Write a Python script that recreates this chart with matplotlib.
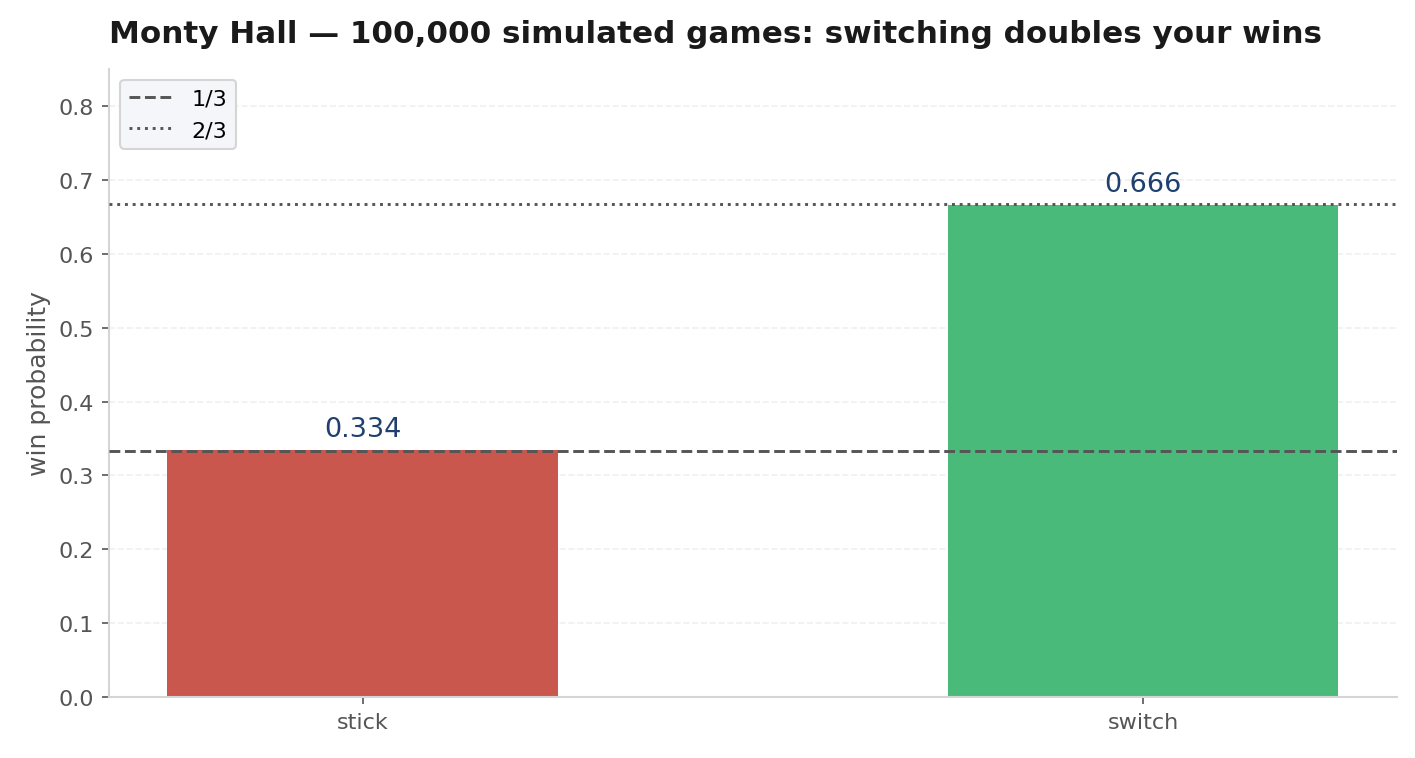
import matplotlib
matplotlib.use("Agg")
import matplotlib.pyplot as plt

# simulated win rates
strategies = ["stick", "switch"]
win_rates = [0.334, 0.666]
bar_colors = ["#c9574d", "#4aba7a"]
ref_levels = [1/3, 2/3]
ref_labels = ["1/3", "2/3"]
ref_styles = ["--", ":"]

plt.rcParams['font.family'] = ['DejaVu Sans']

fig = plt.figure(figsize=(14.15/1.5, 7.59/1.5), dpi=150)
ax = fig.add_axes([0.077, 0.080, 0.910, 0.828])

x = range(len(strategies))
bars = ax.bar(x, win_rates, width=0.5, color=bar_colors, zorder=2)

for lvl, lab, ls in zip(ref_levels, ref_labels, ref_styles):
    ax.axhline(lvl, color="#555555", lw=1.4, ls=ls, label=lab, zorder=3)

for b, v in zip(bars, win_rates):
    ax.annotate("%.3f" % v, (b.get_x() + b.get_width()/2, v),
                xytext=(0, 4), textcoords="offset points",
                ha="center", va="bottom", fontsize=13, color="#1f3f6e")

ax.set_xticks(list(x))
ax.set_xticklabels(strategies)
ax.set_ylim(0, 0.85)
ax.set_yticks([i/10 for i in range(9)])
ax.set_ylabel("win probability", fontsize=12, color="#555555")
ax.tick_params(colors="#555555", labelsize=10.7)

ax.grid(axis="y", ls="--", color="#f0f0f2", lw=0.8, zorder=0)
ax.set_axisbelow(True)
for s in ["top", "right"]:
    ax.spines[s].set_visible(False)
for s in ["left", "bottom"]:
    ax.spines[s].set_color("#d5d5d5")
    ax.spines[s].set_linewidth(1.0)

leg = ax.legend(loc="upper left", fontsize=10.7, facecolor="#f5f6fa",
                edgecolor="#d5d5d5", framealpha=1)

ax.set_title("Monty Hall \u2014 100,000 simulated games: switching doubles your wins",
             loc="left", fontsize=14.9, fontweight="bold", color="#1a1a1a", pad=13)

fig.savefig("out.png", dpi=150)
